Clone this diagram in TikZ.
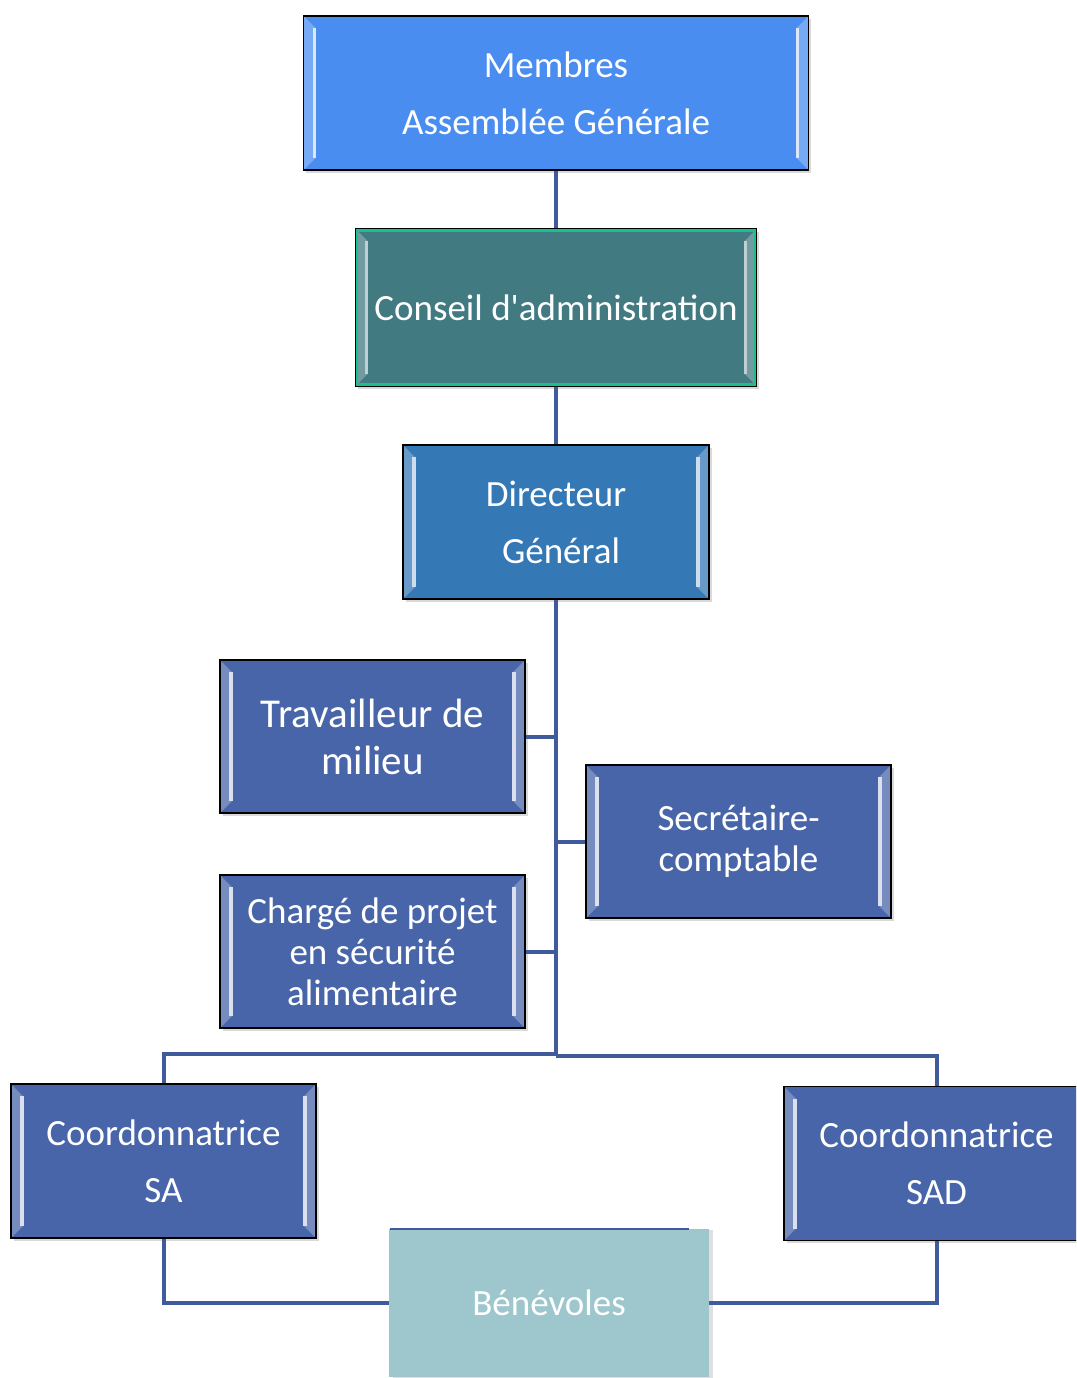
\documentclass[tikz,border=0pt]{standalone}
\usepackage{fontspec}
\setmainfont{Carlito}[Ligatures=TeXOff]
\usetikzlibrary{calc,shadows}
\definecolor{cMem}{HTML}{4A8DF0}
\definecolor{cCon}{HTML}{427A82}
\definecolor{cConB}{HTML}{19BF8F}
\definecolor{cDir}{HTML}{3478B6}
\definecolor{cBox}{HTML}{4865A9}
\definecolor{cBen}{HTML}{9DC6CD}
\definecolor{cLine}{HTML}{3F5B9B}
\tikzset{
  bevel/.style 2 args={path picture={
    \fill[#1] let \p1=(path picture bounding box.north west), \p2=(path picture bounding box.south east) in
      (\x1,\y1) -- (\x1+9pt,\y1-9pt) -- (\x1+9pt,\y2+9pt) -- (\x1,\y2) -- cycle
      (\x2,\y1) -- (\x2-9pt,\y1-9pt) -- (\x2-9pt,\y2+9pt) -- (\x2,\y2) -- cycle;
    \draw[#2, line width=2.4pt] let \p1=(path picture bounding box.north west), \p2=(path picture bounding box.south east) in
      (\x1+8.3pt,\y1-9pt) -- (\x1+8.3pt,\y2+9pt)
      (\x2-8.3pt,\y1-9pt) -- (\x2-8.3pt,\y2+9pt);
  }},
  orgbox/.style={draw=black, line width=1.3pt, inner sep=0pt, align=center, text=white,
    font=\fontsize{27.75}{42.75}\selectfont,
    drop shadow={opacity=0.3, shadow xshift=2.2pt, shadow yshift=-2.2pt}},
  bluebox/.style={orgbox, fill=cBox, bevel={cBox!75!white}{cBox!20!white},
    minimum width=228.75pt, minimum height=114.75pt},
  conn/.style={draw=cLine, line width=3pt},
}
\begin{document}
\begin{tikzpicture}[x=0.75pt, y=-0.75pt]
\useasboundingbox (0,0) rectangle (1076,1378);
\clip (0,0) rectangle (1076,1378);

\coordinate (j) at (556,1054);

\node[orgbox, fill=cMem, bevel={cMem!75!white}{cMem!20!white}, minimum width=378.75pt, minimum height=115.5pt]
  (m) at (556,93) {Membres\\Assemblée Générale};
\node[orgbox, fill=cCon, minimum width=300.75pt, minimum height=117.75pt,
  bevel={cCon!75!white}{cCon!35!white}]
  (c) at (556,307.5) {Conseil d'administration};
\draw[cConB, line width=2pt] ($(c.north west)+(2.5,2.5)$) rectangle ($(c.south east)+(-2.5,-2.5)$);
\node[orgbox, fill=cDir, bevel={cDir!75!white}{cDir!25!white}, minimum width=229.5pt, minimum height=115.5pt]
  (d) at (556,522) {Directeur\\\hspace*{7.5pt}Général};
\node[bluebox, font=\fontsize{30.75}{35.25}\selectfont] (t) at (372.5,736.5) {Travailleur de\\milieu};
\node[bluebox, font=\fontsize{27.75}{30.75}\selectfont] (s) at (738.5,841.5) {Secrétaire-\\comptable};
\node[bluebox, font=\fontsize{27.75}{30.75}\selectfont] (p) at (372.5,951.5) {Chargé de projet\\en sécurité\\alimentaire};
\node[bluebox, minimum height=115.5pt] (sa) at (163.5,1161) {Coordonnatrice\\SA};
\node[bluebox, minimum height=115.5pt] (sad) at (936.5,1163.5) {Coordonnatrice\\SAD};
\node[inner sep=0pt, fill=cBen, text=white, font=\fontsize{27.75}{42.75}\selectfont,
  minimum width=240pt, minimum height=111pt,
  drop shadow={opacity=0.25, shadow xshift=3pt, shadow yshift=-1pt}]
  (b) at (549,1303) {Bénévoles};

% connectors
\draw[conn] (m.south) -- (c.north);
\draw[conn] (c.south) -- (d.north);
\draw[conn] (d.south) -- (j);
\draw[conn] (t.east) -- (t.east -| j);
\draw[conn] (s.west) -- (s.west -| j);
\draw[conn] (p.east) -- (p.east -| j);
\draw[conn] (j) -| (sa.north);
\draw[conn] ([yshift=-1.5]j) -| (sad.north);
\draw[conn] (sa.south) |- (b.west);
\draw[conn] (sad.south) |- (b.east);
\draw[cLine, line width=1.2pt] ([xshift=1]b.north west) -- ([xshift=-15]b.north east);
\end{tikzpicture}
\end{document}
